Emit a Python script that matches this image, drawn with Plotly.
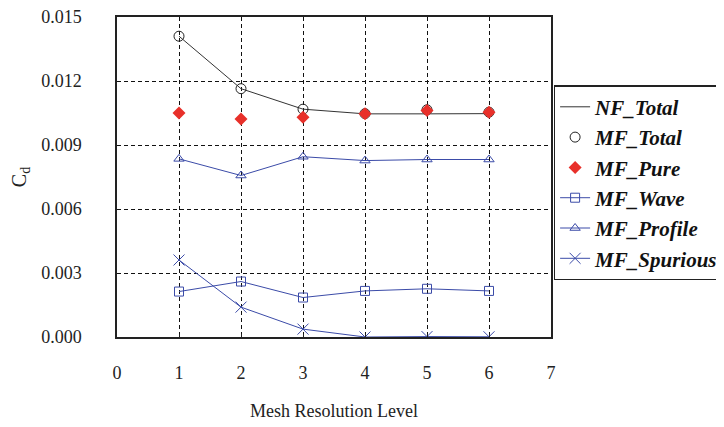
import plotly.graph_objects as go

levels = [1, 2, 3, 4, 5, 6]
nf_total = [0.01410, 0.01164, 0.01068, 0.01046, 0.01046, 0.01047]
mf_total = [0.01410, 0.01164, 0.01068, 0.01047, 0.01065, 0.01054]
mf_pure = [0.01050, 0.01022, 0.01030, 0.01047, 0.01062, 0.01053]
mf_wave = [0.00213, 0.00260, 0.00185, 0.00216, 0.00226, 0.00216]
mf_profile = [0.00835, 0.00757, 0.00845, 0.00827, 0.00832, 0.00832]
mf_spurious = [0.00361, 0.00140, 0.00037, 0.00000, 0.00002, 0.00001]

x_ticks = [0, 1, 2, 3, 4, 5, 6, 7]
y_ticks = [0.000, 0.003, 0.006, 0.009, 0.012, 0.015]

BLUE = "#3b4ba8"
RED = "#e8302a"
SERIF = "Liberation Serif"

fig = go.Figure()
fig.add_trace(go.Scatter(x=levels, y=nf_total, mode="lines", name="NF_Total",
                         line=dict(color="#333333", width=1), legendgroup="a"))
fig.add_trace(go.Scatter(x=levels, y=mf_total, mode="markers", name="MF_Total",
                         marker=dict(symbol="circle-open", size=10, color="#222222",
                                     line=dict(width=1)), legendgroup="b"))
fig.add_trace(go.Scatter(x=levels, y=mf_pure, mode="markers", name="MF_Pure",
                         marker=dict(symbol="diamond", size=10, color=RED), legendgroup="c"))
fig.add_trace(go.Scatter(x=levels, y=mf_wave, mode="lines+markers", name="MF_Wave",
                         line=dict(color=BLUE, width=1),
                         marker=dict(symbol="square-open", size=9, color=BLUE,
                                     line=dict(width=1)), legendgroup="d"))
fig.add_trace(go.Scatter(x=levels, y=mf_profile, mode="lines+markers", name="MF_Profile",
                         line=dict(color=BLUE, width=1),
                         marker=dict(symbol="triangle-up-open", size=9, color=BLUE,
                                     line=dict(width=1)), legendgroup="e"))
fig.add_trace(go.Scatter(x=levels, y=mf_spurious, mode="lines+markers", name="MF_Spurious",
                         line=dict(color=BLUE, width=1),
                         marker=dict(symbol="x-thin-open", size=11, color=BLUE,
                                     line=dict(width=1, color=BLUE)), legendgroup="f"))

fig.update_layout(
    width=716, height=419,
    margin=dict(l=109, r=173, t=9, b=90, autoexpand=False),
    plot_bgcolor="white", paper_bgcolor="white",
    font=dict(family=SERIF, size=18, color="#222222"),
    legend=dict(
        x=1.006, y=0.787, xanchor="left", yanchor="top",
        bordercolor="#222222", borderwidth=1.5, bgcolor="white",
        font=dict(family=SERIF, size=21, color="#111111", style="italic", weight="bold"),
        tracegroupgap=0, itemwidth=30,
    ),
    xaxis=dict(
        range=[0, 7], tickvals=x_ticks, ticktext=[str(v) for v in x_ticks],
        showgrid=True, gridcolor="#111111", griddash="4px,3px", gridwidth=1,
        showline=True, linecolor="#222222", linewidth=1.5, mirror=True,
        ticks="inside", ticklen=3, tickcolor="#222222",
        ticklabelstandoff=19, zeroline=False, automargin=False,
        ticklabeloverflow="allow",
        title=dict(text="Mesh Resolution Level", standoff=22,
                   font=dict(family=SERIF, size=18)),
    ),
    yaxis=dict(
        range=[0, 0.015], tickvals=y_ticks, tickformat=".3f",
        showgrid=True, gridcolor="#111111", griddash="4px,3px", gridwidth=1,
        showline=True, linecolor="#222222", linewidth=1.5, mirror=True,
        ticklabelstandoff=30, zeroline=False, automargin=False,
        ticklabeloverflow="allow",
        title=dict(text="C<sub>d</sub>", standoff=15,
                   font=dict(family=SERIF, size=20)),
    ),
)

fig.write_html("out.html")
